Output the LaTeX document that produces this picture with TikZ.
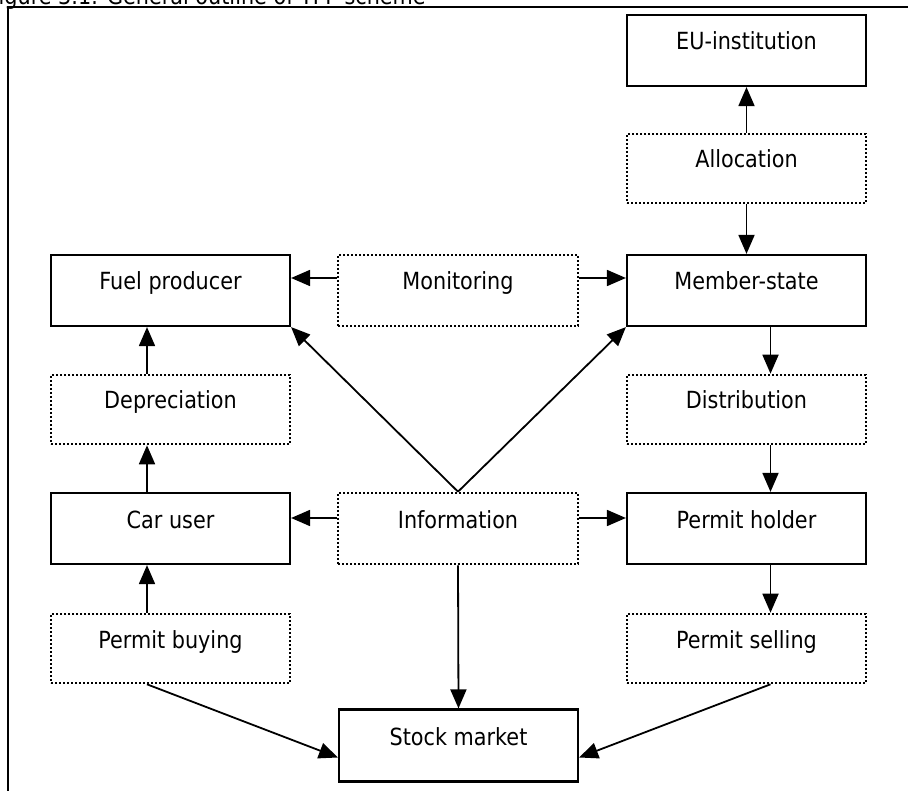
\documentclass[tikz,border=0pt]{standalone}
\usepackage{fontspec}
\setmainfont[FakeStretch=0.88]{DejaVu Sans}
\usetikzlibrary{arrows.meta}

\tikzset{
  box/.style={draw=black, line width=2.2pt, fill=white, minimum width=239pt,
    minimum height=71pt, inner sep=0pt, text height=15pt, text depth=16pt},
  dbox/.style={box, dash pattern=on 2.2pt off 1.8pt, line width=2.6pt},
  conn/.style={line width=1.8pt, -{Triangle[length=19pt,width=16pt]}},
  frameline/.style={line width=2.2pt}
}

\begin{document}
\begin{tikzpicture}[x=1pt, y=-1pt, font=\fontsize{23.6pt}{28pt}\selectfont]
  \clip (0,0) rectangle (908,791);

  % caption and surrounding frame
  \node[anchor=base west, inner sep=0pt] (cap) at (-12,4.5) {Figure 3.1: General outline of TPP scheme};
  \draw[frameline] (8,800) -- (8,7) -- (920,7);

  % right column
  \node[box]  (eu)   at (746.5,50.5)  {EU-institution};
  \node[dbox, minimum height=69pt] (alloc) at (746.5,168.5) {Allocation};
  \node[box]  (ms)   at (746.5,290.5) {Member-state};
  \node[dbox, minimum height=69pt] (dist)  at (746.5,409.5) {Distribution};
  \node[box]  (ph)   at (746.5,528.5) {Permit holder};
  \node[dbox, minimum height=69pt] (psell) at (746.5,648.5) {Permit selling};

  % middle column
  \node[dbox, minimum width=240pt] (mon)  at (458,290.5) {Monitoring};
  \node[dbox, minimum width=240pt] (info) at (458,528.5) {Information};
  \node[box, minimum height=72pt]  (sm)   at (458.5,745.5) {Stock market};

  % left column
  \node[box]  (fp)   at (170.5,290.5) {Fuel producer};
  \node[dbox, minimum height=69pt] (dep)  at (170.5,409.5) {Depreciation};
  \node[box]  (cu)   at (170.5,528.5) {Car user};
  \node[dbox, minimum height=69pt] (pbuy) at (170.5,648.5) {Permit buying};

  % allocation links
  \draw[conn] (alloc.north) -- (eu.south);
  \draw[conn] (alloc.south) -- (ms.north);

  % monitoring links
  \draw[conn] ([yshift=12.5pt]mon.west) -- ([yshift=12.5pt]fp.east);
  \draw[conn] ([yshift=12.5pt]mon.east) -- ([yshift=12.5pt]ms.west);

  % distribution chain
  \draw[conn] ([xshift=24pt]ms.south) -- ([xshift=24pt]dist.north);
  \draw[conn] ([xshift=24pt]dist.south) -- ([xshift=24pt]ph.north);
  \draw[conn] ([xshift=24pt]ph.south) -- ([xshift=24pt]psell.north);

  % car user chain
  \draw[conn] ([xshift=-23.5pt]pbuy.north) -- ([xshift=-23.5pt]cu.south);
  \draw[conn] ([xshift=-23.5pt]cu.north) -- ([xshift=-23.5pt]dep.south);
  \draw[conn] ([xshift=-23.5pt]dep.north) -- ([xshift=-23.5pt]fp.south);

  % information links
  \draw[conn] ([yshift=10.5pt]info.west) -- ([yshift=10.5pt]cu.east);
  \draw[conn] ([yshift=10.5pt]info.east) -- ([yshift=10.5pt]ph.west);
  \draw[conn] (info.north) -- (fp.south east);
  \draw[conn] (info.north) -- (ms.south west);
  \draw[conn] (info.south) -- (sm.north);

  % trading links
  \draw[conn] ([xshift=-23.5pt]pbuy.south) -- ([yshift=-12pt]sm.west);
  \draw[conn] ([xshift=24pt]psell.south) -- ([yshift=-12pt]sm.east);
\end{tikzpicture}
\end{document}
